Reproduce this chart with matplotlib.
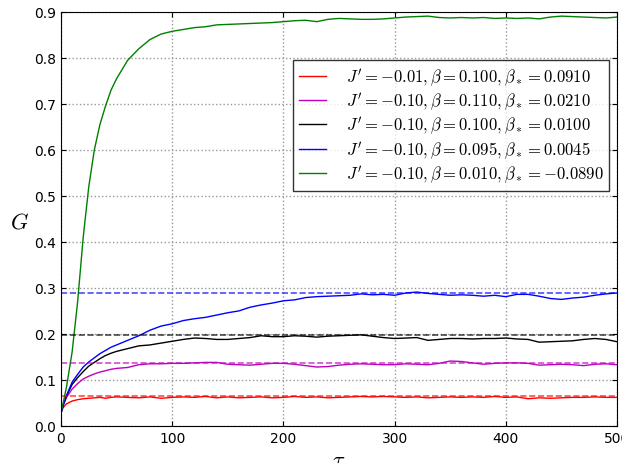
import numpy as np
import matplotlib
matplotlib.use('Agg')
import matplotlib.pyplot as plt

plt.rcParams['mathtext.fontset'] = 'cm'
plt.rcParams['xtick.direction'] = 'in'
plt.rcParams['ytick.direction'] = 'in'

tau = [0, 2, 5, 10, 15, 20, 25, 30, 35, 40, 45, 50,
       60, 70, 80, 90, 100, 110, 120, 130, 140, 150, 160, 170, 180, 190,
       200, 210, 220, 230, 240, 250, 260, 270, 280, 290, 300, 310, 320, 330,
       340, 350, 360, 370, 380, 390, 400, 410, 420, 430, 440, 450, 460, 470,
       480, 490, 500]

G_red = [0.028, 0.040, 0.048, 0.054, 0.057, 0.059, 0.060, 0.061, 0.062, 0.060, 0.062, 0.063,
         0.062, 0.061, 0.063, 0.060, 0.062, 0.063, 0.062, 0.064, 0.061, 0.063, 0.061, 0.062, 0.063, 0.061,
         0.062, 0.064, 0.062, 0.063, 0.061, 0.062, 0.063, 0.064, 0.063, 0.064, 0.063, 0.062, 0.063, 0.061,
         0.062, 0.063, 0.062, 0.063, 0.062, 0.064, 0.062, 0.063, 0.059, 0.061, 0.060, 0.061, 0.062, 0.062,
         0.063, 0.062, 0.062]

G_magenta = [0.028, 0.045, 0.062, 0.080, 0.092, 0.102, 0.108, 0.113, 0.117, 0.120, 0.123, 0.125,
             0.127, 0.133, 0.135, 0.135, 0.136, 0.136, 0.137, 0.138, 0.138, 0.134, 0.133, 0.132, 0.134, 0.136,
             0.136, 0.134, 0.131, 0.128, 0.129, 0.132, 0.134, 0.135, 0.134, 0.133, 0.133, 0.135, 0.134, 0.133,
             0.136, 0.141, 0.140, 0.137, 0.134, 0.136, 0.137, 0.137, 0.136, 0.132, 0.133, 0.134, 0.133, 0.131,
             0.134, 0.135, 0.133]

G_black = [0.028, 0.045, 0.065, 0.090, 0.105, 0.118, 0.130, 0.138, 0.146, 0.153, 0.158, 0.162,
           0.168, 0.174, 0.176, 0.180, 0.184, 0.188, 0.191, 0.190, 0.188, 0.188, 0.190, 0.192, 0.196, 0.194,
           0.194, 0.196, 0.195, 0.193, 0.195, 0.196, 0.197, 0.198, 0.195, 0.192, 0.190, 0.191, 0.192, 0.186,
           0.188, 0.190, 0.190, 0.189, 0.190, 0.190, 0.191, 0.189, 0.188, 0.182, 0.183, 0.184, 0.185, 0.188,
           0.190, 0.188, 0.183]

G_blue = [0.028, 0.045, 0.066, 0.095, 0.112, 0.128, 0.139, 0.148, 0.157, 0.164, 0.171, 0.176,
          0.186, 0.196, 0.208, 0.217, 0.222, 0.229, 0.233, 0.236, 0.241, 0.246, 0.250, 0.258, 0.263, 0.267,
          0.272, 0.274, 0.279, 0.281, 0.282, 0.283, 0.284, 0.287, 0.285, 0.286, 0.284, 0.289, 0.291, 0.288,
          0.286, 0.284, 0.285, 0.284, 0.282, 0.284, 0.281, 0.286, 0.286, 0.282, 0.277, 0.275, 0.278, 0.280,
          0.284, 0.287, 0.289]

G_green = [0.030, 0.050, 0.085, 0.160, 0.270, 0.410, 0.520, 0.600, 0.655, 0.695, 0.730, 0.755,
           0.795, 0.820, 0.840, 0.852, 0.858, 0.862, 0.866, 0.868, 0.872, 0.873, 0.874, 0.875, 0.876, 0.877,
           0.879, 0.881, 0.882, 0.879, 0.884, 0.886, 0.885, 0.884, 0.884, 0.885, 0.887, 0.889, 0.890, 0.891,
           0.888, 0.887, 0.888, 0.887, 0.888, 0.886, 0.887, 0.886, 0.887, 0.885, 0.889, 0.891, 0.890, 0.889,
           0.888, 0.887, 0.889]

# stationary values (dashed)
G_inf = {'r': 0.066, 'm': 0.137, 'k': 0.198, 'b': 0.288}

labels = [r"$J'=-0.01,\beta=0.100,\beta_*=0.0910$",
          r"$J'=-0.10,\beta=0.110,\beta_*=0.0210$",
          r"$J'=-0.10,\beta=0.100,\beta_*=0.0100$",
          r"$J'=-0.10,\beta=0.095,\beta_*=0.0045$",
          r"$J'=-0.10,\beta=0.010,\beta_*=-0.0890$"]

fig = plt.figure(figsize=(6.22, 4.64), dpi=100)
ax = fig.add_axes([0.098, 0.080, 0.894, 0.892])

series = [(G_red, 'r'), (G_magenta, 'm'), (G_black, 'k'), (G_blue, 'b'), (G_green, 'g')]
for (G, c), lab in zip(series, labels):
    ax.plot(tau, G, color=c, lw=1.0, label=lab)

for c, g in G_inf.items():
    ax.axhline(g, color=c, ls='--', lw=1.2, alpha=0.7)

ax.set_xlim(0, 500)
ax.set_ylim(0, 0.9)
ax.set_xticks(np.arange(0, 501, 100))
ax.set_yticks(np.arange(0, 0.91, 0.1))
ax.tick_params(top=True, right=True, labelsize=10)
ax.grid(True, color='0.6', ls=':', lw=1)
ax.set_xlabel(r'$\tau$', fontsize=16)
ax.set_ylabel(r'$G$', fontsize=16, rotation=0, labelpad=9)
ax.yaxis.set_label_coords(-0.075, 0.47)

leg = ax.legend(loc='upper right', bbox_to_anchor=(0.986, 0.884), fontsize=12,
                fancybox=False, edgecolor='k', handlelength=1.6, handletextpad=1.2,
                labelspacing=0.15, borderpad=0.35, borderaxespad=0)
leg.get_frame().set_linewidth(1.0)

fig.savefig('out.png', dpi=100)
